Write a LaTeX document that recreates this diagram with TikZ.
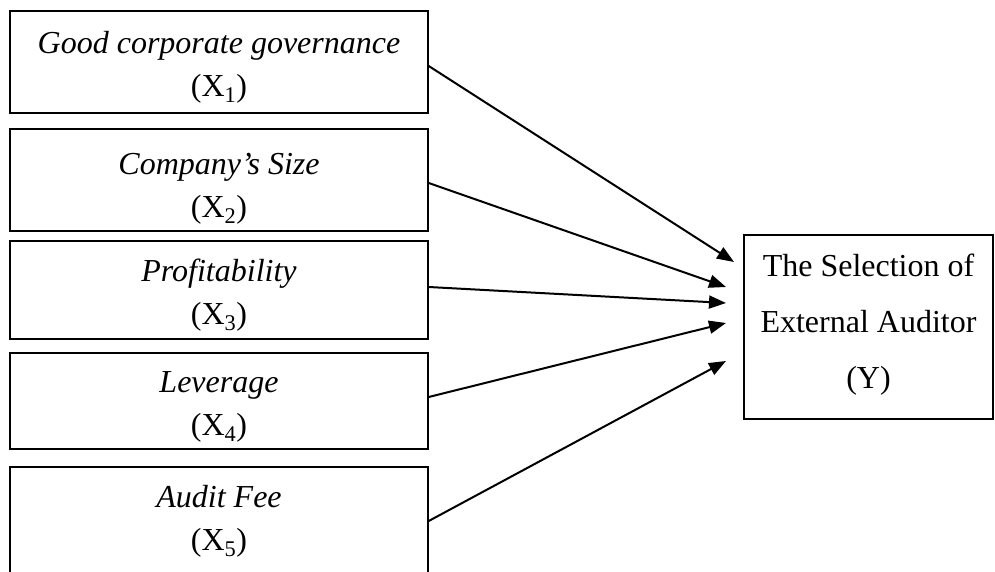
\documentclass[tikz,border=0pt]{standalone}
\usepackage{fontspec}
\setmainfont{Liberation Serif}
\usetikzlibrary{arrows.meta}
\begin{document}
\begin{tikzpicture}[x=1pt,y=-1pt,
  box/.style={draw=black,line width=1.4pt,rectangle,minimum width=418pt,inner sep=0pt},
  txt/.style={inner sep=0pt,align=center,font=\fontsize{32}{43}\selectfont},
  ybox/.style={draw=black,line width=1.4pt,rectangle,minimum width=249pt,minimum height=184pt,inner sep=0pt},
  ytxt/.style={inner sep=0pt,align=center,font=\fontsize{32}{56}\selectfont},
  arr/.style={line width=2pt,-{Triangle[length=17pt,width=13pt]}}]
\useasboundingbox (0,0) rectangle (995,572);
\node[box,minimum height=102pt] (b1) at (219,62) {};
\node[box,minimum height=102pt] (b2) at (219,180) {};
\node[box,minimum height=98pt] (b3) at (219,290) {};
\node[box,minimum height=96pt] (b4) at (219,401) {};
\node[box,minimum height=108pt] (b5) at (219,521) {};
\node[txt] (t1) at (219,67) {\textit{Good corporate governance}\\(X\textsubscript{1})};
\node[txt] (t2) at (219,189) {\textit{Company’s Size}\\(X\textsubscript{2})};
\node[txt] (t3) at (219,295) {\textit{Profitability}\\(X\textsubscript{3})};
\node[txt] (t4) at (219,407) {\textit{Leverage}\\(X\textsubscript{4})};
\node[txt] (t5) at (219,521) {\textit{Audit Fee}\\(X\textsubscript{5})};
\node[ybox] (y) at (868.5,327) {};
\node[ytxt] (ty) at (868.5,325) {The Selection of\\External Auditor\\(Y)};
\coordinate (e1) at (734,262);
\coordinate (e2) at (726,287);
\coordinate (e3) at (726,303);
\coordinate (e4) at (726,323);
\coordinate (e5) at (726,361);
\draw[arr] ([yshift=-4pt]b1.east) -- (e1);
\draw[arr] ([yshift=-3pt]b2.east) -- (e2);
\draw[arr] ([yshift=3pt]b3.east) -- (e3);
\draw[arr] ([yshift=4pt]b4.east) -- (e4);
\draw[arr] (b5.east) -- (e5);
\end{tikzpicture}
\end{document}
